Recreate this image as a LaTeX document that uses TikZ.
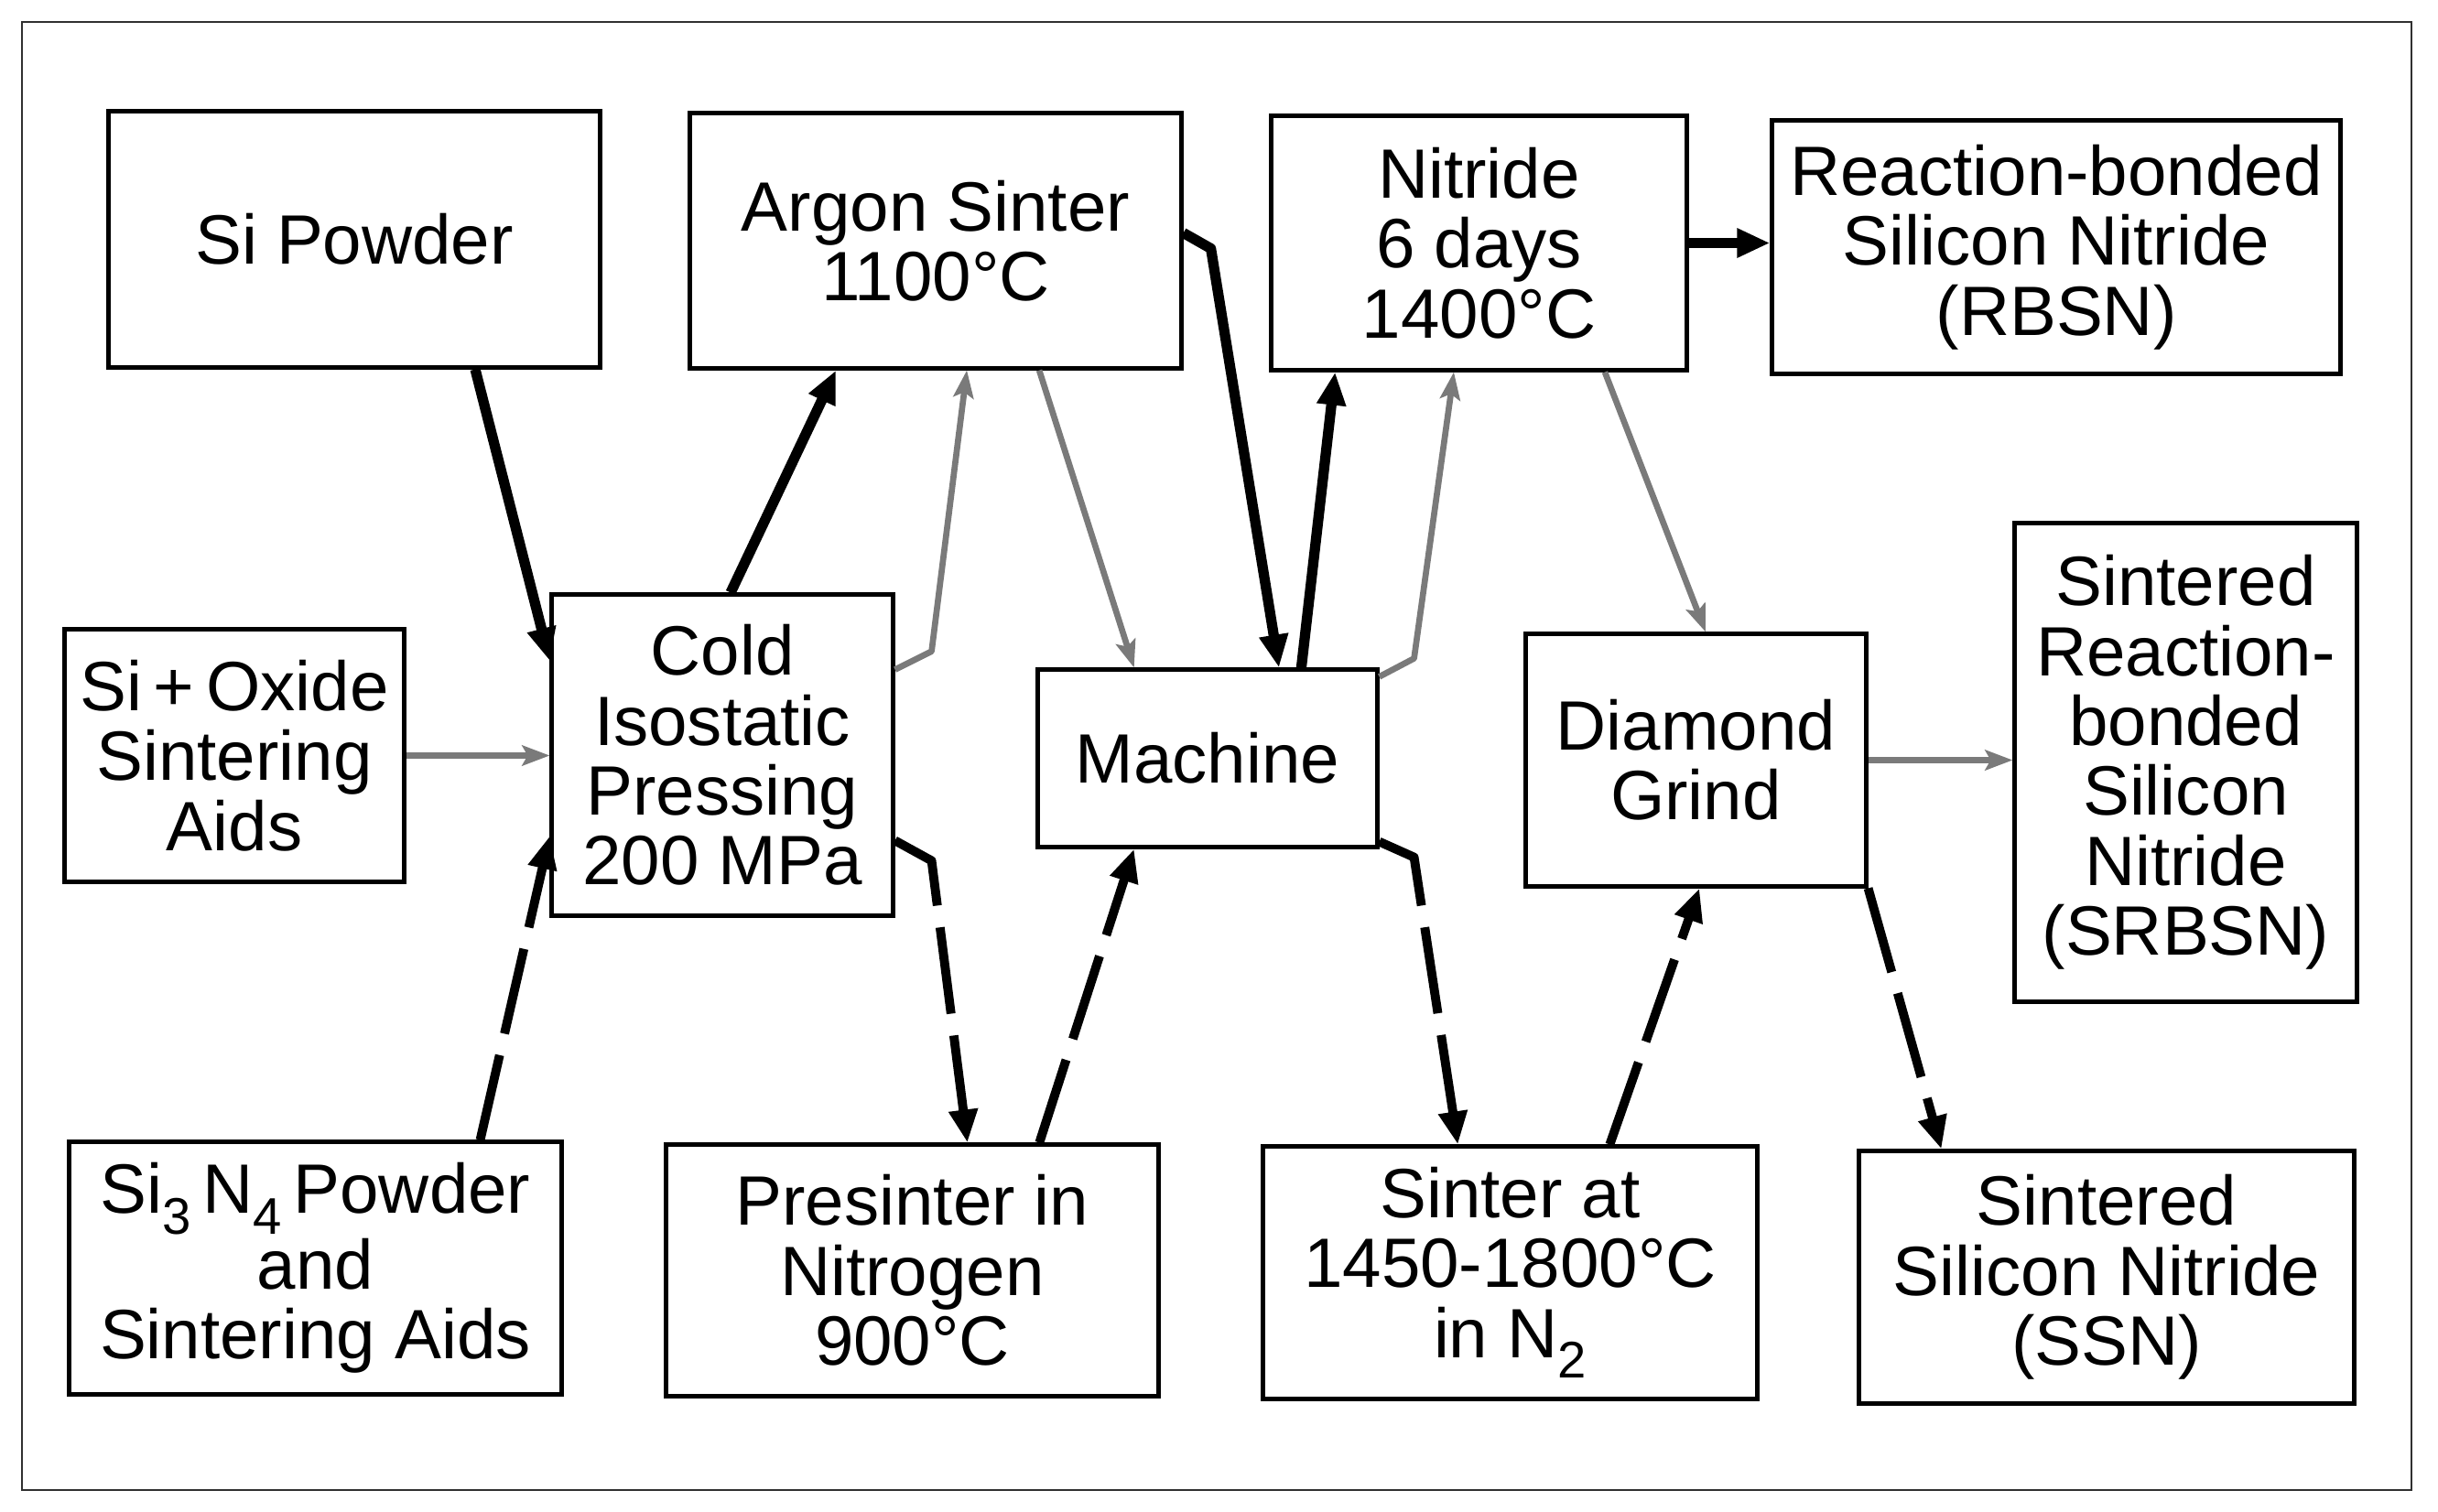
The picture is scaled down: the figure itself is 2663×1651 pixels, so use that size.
\documentclass[tikz,border=0pt]{standalone}
\usepackage{fontspec}
\setmainfont{Liberation Sans}
\usetikzlibrary{arrows.meta,calc}
\newcommand{\chemsub}[1]{\raisebox{-0.3em}{\fontsize{16}{16}\selectfont #1}}
\begin{document}
\begin{tikzpicture}[x=0.01cm, y=-0.01cm,
    box/.style={draw, line width=1.4pt, inner sep=0pt, align=center, font=\fontsize{21.7}{21.7}\selectfont},
    solidflow/.style={line width=3.2pt, line join=round, -{Triangle[length=0.36cm,width=0.3cm]}},
    dashflow/.style={line width=2.8pt, line join=round, dash pattern=on 0.95cm off 0.24cm, -{Triangle[length=0.36cm,width=0.3cm]}},
    greyflow/.style={line width=1.9pt, line join=round, draw=flowGrey, -{Stealth[length=0.3cm,width=0.22cm,inset=0.06cm]}}]
    % Define colours
    \definecolor{flowGrey}{HTML}{7A7A7A}
    \definecolor{frameColour}{HTML}{303030}

    % Fix the page size and draw the frame
    \useasboundingbox (0,0) rectangle (2663,1651);
    \draw[frameColour, line width=0.8pt] (24,24) rectangle (2634,1628);

    % Draw top row
    \node[box, minimum width=5.36cm, minimum height=2.79cm] (sipowder) at (387,261.5) {Si Powder};
    \node[box, minimum width=5.36cm, minimum height=2.78cm] (argon) at (1022,263) {Argon Sinter\\1100°C};
    \node[box, minimum width=4.53cm, minimum height=2.77cm] (nitride) at (1615.5,265.5) {Nitride\\6 days\\1400°C};
    \node[box, minimum width=6.20cm, minimum height=2.76cm] (rbsn) at (2246,270) {Reaction-bonded\\Silicon Nitride\\(RBSN)};

    % Draw middle row
    \node[box, minimum width=3.70cm, minimum height=2.75cm] (sioxide) at (256,825.5) {Si\,+\,Oxide\\Sintering\\Aids};
    \node[box, minimum width=3.72cm, minimum height=3.50cm] (cold) at (789,825) {Cold\\Isostatic\\Pressing\\200 MPa};
    \node[box, minimum width=3.70cm, minimum height=1.93cm] (machine) at (1319,828.5) {Machine};
    \node[box, minimum width=3.71cm, minimum height=2.75cm] (diamond) at (1852.5,830.5) {Diamond\\Grind};
    \node[box, minimum width=3.73cm, minimum height=5.22cm] (srbsn) at (2387.5,833) {Sintered\\Reaction-\\bonded\\Silicon\\Nitride\\(SRBSN)};

    % Draw bottom row
    \node[box, minimum width=5.37cm, minimum height=2.75cm] (sinpowder) at (344.5,1385.5) {Si\chemsub{3}\,N\chemsub{4}\,Powder\\and\\Sintering Aids};
    \node[box, minimum width=5.37cm, minimum height=2.74cm] (presinter) at (996.5,1388) {Presinter in\\Nitrogen\\900°C};
    \node[box, minimum width=5.39cm, minimum height=2.75cm] (sinter) at (1649.5,1390.5) {Sinter at\\1450-1800°C\\in N\chemsub{2}};
    \node[box, minimum width=5.40cm, minimum height=2.75cm] (ssn) at (2301,1395.5) {Sintered\\Silicon Nitride\\(SSN)};

    % Draw RBSN route
    \draw[solidflow] ($(sipowder.south west)!0.744!(sipowder.south east)$) -- ($(cold.north west)!0.21!(cold.south west)$);
    \draw[solidflow] ($(cold.north west)!0.524!(cold.north east)$) -- ($(argon.south west)!0.299!(argon.south east)$);
    \draw[solidflow] ($(argon.north east)!0.47!(argon.south east)$) -- ++(30,17) -- ($(machine.north west)!0.708!(machine.north east)$);
    \draw[solidflow] ($(machine.north west)!0.773!(machine.north east)$) -- ($(nitride.south west)!0.157!(nitride.south east)$);
    \draw[solidflow] (nitride.east) -- (nitride.east -| rbsn.west);

    % Draw SRBSN route
    \draw[greyflow] (sioxide.east) -- (sioxide.east -| cold.west);
    \draw[greyflow] ($(cold.north east)!0.237!(cold.south east)$) -- ++(40,-20) -- ($(argon.south west)!0.563!(argon.south east)$);
    \draw[greyflow] ($(argon.south west)!0.709!(argon.south east)$) -- ($(machine.north west)!0.286!(machine.north east)$);
    \draw[greyflow] ($(machine.north east)!0.05!(machine.south east)$) -- ++(38,-20) -- ($(nitride.south west)!0.44!(nitride.south east)$);
    \draw[greyflow] ($(nitride.south west)!0.8!(nitride.south east)$) -- ($(diamond.north west)!0.528!(diamond.north east)$);
    \draw[greyflow] (diamond.east) -- (diamond.east -| srbsn.west);

    % Draw SSN route
    \draw[dashflow] ($(sinpowder.north west)!0.832!(sinpowder.north east)$) -- ($(cold.north west)!0.749!(cold.south west)$);
    \draw[dashflow] ($(cold.north east)!0.763!(cold.south east)$) -- ++(40,22) -- ($(presinter.north west)!0.611!(presinter.north east)$);
    \draw[dashflow] ($(presinter.north west)!0.756!(presinter.north east)$) -- ($(machine.south west)!0.286!(machine.south east)$);
    \draw[dashflow] ($(machine.north east)!0.96!(machine.south east)$) -- ++(38,17) -- ($(sinter.north west)!0.395!(sinter.north east)$);
    \draw[dashflow] ($(sinter.north west)!0.70!(sinter.north east)$) -- ($(diamond.south west)!0.51!(diamond.south east)$);
    \draw[dashflow] (diamond.south east) -- ($(ssn.north west)!0.169!(ssn.north east)$);

\end{tikzpicture}
\end{document}
